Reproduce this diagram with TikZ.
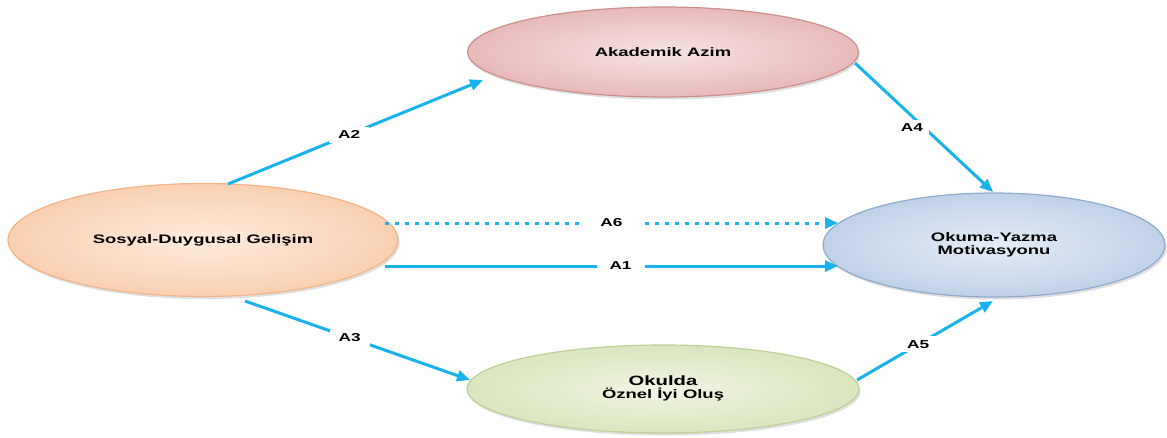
\documentclass[tikz,border=0pt]{standalone}
\usepackage{fontspec}
\setmainfont{Liberation Sans}[FakeStretch=1.5]
\usetikzlibrary{shapes.geometric,arrows.meta,shadows}
\definecolor{arrowblue}{RGB}{24,178,236}
\definecolor{orIn}{RGB}{253,236,222}
\definecolor{orOut}{RGB}{249,208,176}
\definecolor{orLine}{RGB}{240,180,134}
\definecolor{rdIn}{RGB}{246,226,226}
\definecolor{rdOut}{RGB}{232,186,186}
\definecolor{rdLine}{RGB}{205,142,142}
\definecolor{blIn}{RGB}{228,236,246}
\definecolor{blOut}{RGB}{192,210,232}
\definecolor{blLine}{RGB}{142,170,206}
\definecolor{grIn}{RGB}{240,245,228}
\definecolor{grOut}{RGB}{218,230,190}
\definecolor{grLine}{RGB}{190,208,150}
\tikzset{
  oval/.style={ellipse, inner sep=0pt, line width=1.2pt, align=center,
    font=\bfseries\fontsize{12.3}{13.5}\selectfont,
    drop shadow={opacity=0.25, shadow xshift=1.5pt, shadow yshift=-2.5pt}},
  conn/.style={draw=arrowblue, line width=3pt,
    -{Triangle[length=13pt,width=11pt]}},
  dotconn/.style={conn, dash pattern=on 4pt off 6pt},
  lab/.style={fill=white, font=\bfseries\fontsize{11.5}{13}\selectfont,
    inner ysep=4pt}
}
\begin{document}
\begin{tikzpicture}[x=1pt,y=-1pt]
\useasboundingbox (0,0) rectangle (1167,437);
\node[oval, minimum width=390pt, minimum height=113pt, draw=orLine,
  inner color=orIn, outer color=orOut] (sd) at (203,240) {Sosyal-Duygusal Gelişim};
\node[oval, minimum width=391pt, minimum height=90pt, draw=rdLine,
  inner color=rdIn, outer color=rdOut] (aa) at (663,52) {Akademik Azim};
\node[oval, minimum width=342pt, minimum height=104pt, draw=blLine,
  inner color=blIn, outer color=blOut] (rm) at (994,245) {Okuma-Yazma\\Motivasyonu};
\node[oval, minimum width=392pt, minimum height=88pt, draw=grLine,
  inner color=grIn, outer color=grOut] (oi) at (663,389)
  {\raisebox{4pt}{\begin{tabular}{@{}c@{}}{\fontsize{13.5}{14}\selectfont Okulda}\\[-2pt]Öznel İyi Oluş\end{tabular}}};

% A2
\draw[conn] ([shift={(25,-56)}]sd.center) -- ([shift={(-180,28)}]aa.center)
  node[lab, pos=0.475, inner xsep=9pt] {A2};
% A4
\draw[conn] ([shift={(192,11)}]aa.center) -- ([shift={(-1,-53)}]rm.center);
\node[lab, inner xsep=6pt] (l4) at (912,128) {A4};
% A6
\draw[dotconn] ([shift={(182,-17)}]sd.center) -- ([shift={(-156,-22)}]rm.center)
  node[lab, pos=0.5, inner xsep=18pt] {A6};
% A1
\draw[conn] ([shift={(182,26)}]sd.center) -- ([shift={(-156,21)}]rm.center)
  node[lab, pos=0.52, inner xsep=13pt] {A1};
% A3
\draw[conn] ([shift={(42,61)}]sd.center) -- ([shift={(-193,-9)}]oi.center)
  node[lab, pos=0.465, inner xsep=9pt] {A3};
% A5
\draw[conn] ([shift={(194,-9)}]oi.center) -- ([shift={(-1,56)}]rm.center)
  node[lab, pos=0.45, inner xsep=7pt] {A5};
\end{tikzpicture}
\end{document}
